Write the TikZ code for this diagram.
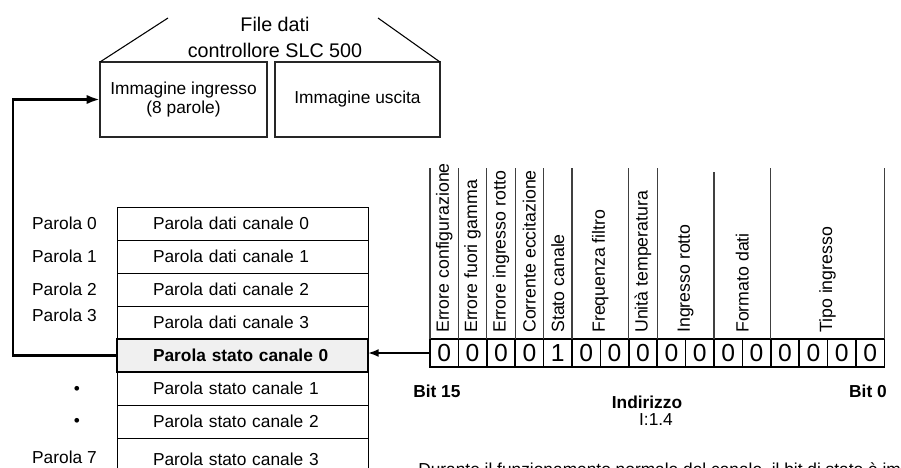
\documentclass[tikz,border=0pt]{standalone}
\usepackage{fontspec}
\setmainfont{Liberation Sans}
\usetikzlibrary{positioning, arrows.meta}
\tikzstyle{imagebox} = [rectangle, draw=black!85, line width=1.2pt, minimum width=125.25pt, minimum height=56.25pt, align=center, inner sep=0pt, outer sep=0pt, font=\fontsize{13}{14.5}\selectfont]
\tikzstyle{wordrow} = [rectangle, draw=black, line width=0.75pt, minimum width=188.25pt, minimum height=24.75pt, text width=134.25pt, align=left, inner sep=0pt, outer sep=0pt, font=\fontsize{13}{15}\selectfont]
\tikzstyle{statusrow} = [wordrow, line width=2pt, fill=gray!12, font=\fontsize{13}{15}\selectfont\bfseries]
\tikzstyle{wordlabel} = [anchor=east, inner sep=0pt, font=\fontsize{13}{15}\selectfont]
\tikzstyle{bitcell} = [rectangle, draw=black, line width=1.1pt, minimum width=21.3pt, minimum height=21pt, inner sep=0pt, outer sep=0pt, font=\fontsize{18.5}{20}\selectfont]
\tikzstyle{bitname} = [rotate=90, anchor=west, inner sep=0pt, font=\fontsize{13.3}{15}\selectfont]
\tikzstyle{divider} = [draw=black!75, line width=1pt]
\tikzstyle{plain} = [inner sep=0pt, font=\fontsize{13}{15}\selectfont]
\tikzstyle{feedarrow} = [line width=2.2pt, -{Latex[length=10pt,width=7pt]}]
\tikzstyle{bitarrow} = [line width=1.5pt, -{Latex[length=8pt,width=6pt]}]

\begin{document}
\begin{tikzpicture}[x=0.75pt, y=-0.75pt, node distance=0pt]
    \useasboundingbox (0,0) rectangle (901,468);
    \clip (0,0) rectangle (901,468);

    % Data file of the controller
    \node (filetitle) [align=center, font=\fontsize{14.8}{19.5}\selectfont] at (275,37) {File dati\\controllore SLC 500};
    \node (inbox) [imagebox, anchor=north west] at (100,62) {Immagine ingresso\\(8 parole)};
    \node (outbox) [imagebox, minimum width=123.75pt, right=6pt of inbox] {Immagine uscita};
    \coordinate (leftpeak) at (168,18);
    \coordinate (rightpeak) at (378,18);
    \draw [line width=0.8pt] (inbox.north west) -- (leftpeak);
    \draw [line width=0.8pt] (outbox.north east) -- (rightpeak);

    % Input image words
    \node (row0) [wordrow, anchor=north west] at (117,207) {Parola dati canale 0};
    \node (row1) [wordrow, below=of row0] {Parola dati canale 1};
    \node (row2) [wordrow, below=of row1] {Parola dati canale 2};
    \node (row3) [wordrow, below=of row2] {Parola dati canale 3};
    \node (row4) [statusrow, below=of row3] {Parola stato canale 0};
    \node (row5) [wordrow, below=of row4] {Parola stato canale 1};
    \node (row6) [wordrow, below=of row5] {Parola stato canale 2};
    \node (row7) [wordrow, minimum height=32.5pt, below=of row6] {Parola stato canale 3};

    \node (lab0) [wordlabel] at (97,223) {Parola 0};
    \node (lab1) [wordlabel] at (97,256) {Parola 1};
    \node (lab2) [wordlabel] at (97,289) {Parola 2};
    \node (lab3) [wordlabel] at (97,315) {Parola 3};
    \node (dot1) [plain] at (77,390) {•};
    \node (dot2) [plain] at (77,422) {•};
    \node (lab7) [wordlabel] at (97,457) {Parola 7};

    % Status word bits
    \node (bit15) [bitcell, anchor=west] at (430,353) {0};
    \node (bit14) [bitcell, right=of bit15] {0};
    \node (bit13) [bitcell, right=of bit14] {0};
    \node (bit12) [bitcell, right=of bit13] {0};
    \node (bit11) [bitcell, right=of bit12] {1};
    \node (bit10) [bitcell, right=of bit11] {0};
    \node (bit9) [bitcell, right=of bit10] {0};
    \node (bit8) [bitcell, right=of bit9] {0};
    \node (bit7) [bitcell, right=of bit8] {0};
    \node (bit6) [bitcell, right=of bit7] {0};
    \node (bit5) [bitcell, right=of bit6] {0};
    \node (bit4) [bitcell, right=of bit5] {0};
    \node (bit3) [bitcell, right=of bit4] {0};
    \node (bit2) [bitcell, right=of bit3] {0};
    \node (bit1) [bitcell, right=of bit2] {0};
    \node (bit0) [bitcell, right=of bit1] {0};

    \draw [divider] (bit15.north west) -- ++(0,-171);
    \draw [divider] (bit14.north west) -- ++(0,-171);
    \draw [divider] (bit13.north west) -- ++(0,-171);
    \draw [divider] (bit12.north west) -- ++(0,-171);
    \draw [divider] (bit11.north west) -- ++(0,-171);
    \draw [divider] (bit10.north west) -- ++(0,-171);
    \draw [divider] (bit8.north west) -- ++(0,-171);
    \draw [divider] (bit7.north west) -- ++(0,-171);
    \draw [divider] (bit5.north west) -- ++(0,-167);
    \draw [divider] (bit3.north west) -- ++(0,-171);
    \draw [divider] (bit0.north east) -- ++(0,-171);

    \node (name15) [bitname] at ([yshift=4.5pt]bit15.north) {Errore configurazione};
    \node (name14) [bitname] at ([yshift=4.5pt]bit14.north) {Errore fuori gamma};
    \node (name13) [bitname] at ([yshift=4.5pt]bit13.north) {Errore ingresso rotto};
    \node (name12) [bitname] at ([yshift=4.5pt]bit12.north) {Corrente eccitazione};
    \node (name11) [bitname] at ([yshift=4.5pt]bit11.north) {Stato canale};
    \node (name10) [bitname] at ([yshift=4.5pt]bit10.north east) {Frequenza filtro};
    \node (name8) [bitname] at ([yshift=4.5pt]bit8.north) {Unità temperatura};
    \node (name7) [bitname] at ([yshift=4.5pt]bit7.north east) {Ingresso rotto};
    \node (name5) [bitname] at ([yshift=4.5pt]bit5.north east) {Formato dati};
    \node (name3) [bitname] at ([yshift=4.5pt]bit2.north east) {Tipo ingresso};

    \node (msb) [plain, font=\fontsize{13}{15}\selectfont\bfseries, anchor=west] at (413,391) {Bit 15};
    \node (lsb) [plain, font=\fontsize{13}{15}\selectfont\bfseries, anchor=east] at (887,391) {Bit 0};
    \node (addrtitle) [plain, font=\fontsize{13}{15}\selectfont\bfseries] at (647,402) {Indirizzo};
    \node (addr) [plain] at (656,420) {I:1.4};

    \draw [feedarrow] (row4.west) -- ++(-104,0) |- (inbox.west);
    \draw [bitarrow] (bit15.west) -- (bit15.west -| row4.east);

    \node (note) [plain, anchor=base west] at (418,475) {Durante il funzionamento normale del canale, il bit di stato è impostato};
\end{tikzpicture}
\end{document}
